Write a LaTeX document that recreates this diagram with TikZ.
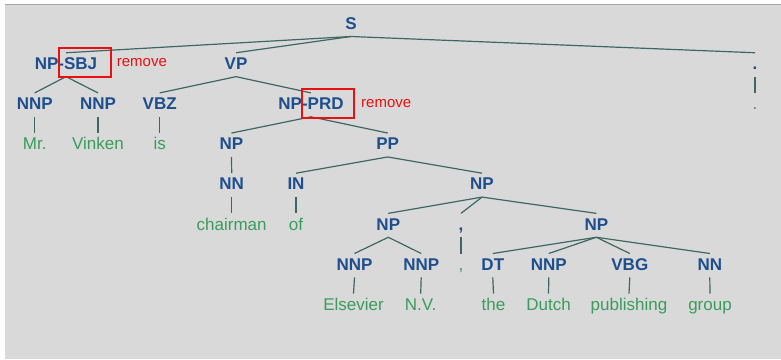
\documentclass[tikz,border=0pt]{standalone}
\usepackage{fontspec}
\setmainfont{Liberation Sans}

\definecolor{catblue}{RGB}{30,78,140}
\definecolor{wordgreen}{RGB}{58,156,92}
\definecolor{edgeteal}{RGB}{62,102,98}
\definecolor{panelgrey}{RGB}{217,217,217}
\definecolor{rimgrey}{RGB}{165,165,165}
\definecolor{markred}{RGB}{232,16,16}

\tikzset{
  cat/.style={anchor=base, inner xsep=0pt, inner ysep=2.5pt,
    text height=14pt, text depth=4.5pt,
    font=\fontsize{17}{17}\selectfont\bfseries, text=catblue},
  word/.style={cat, font=\fontsize{17}{17}\selectfont, text=wordgreen},
  edge/.style={draw=edgeteal, line width=1.2pt},
  markbox/.style={draw=markred, line width=1.8pt, inner sep=0pt},
  note/.style={anchor=base west, inner sep=0pt, text=markred,
    font=\fontsize{15}{15}\selectfont},
}

\begin{document}
\begin{tikzpicture}[x=1pt,y=-1pt]
  % canvas and grey panel
  \fill[white] (0,0) rectangle (781,359);
  \useasboundingbox (0,0) rectangle (781,359);
  \fill[panelgrey] (4.5,4.5) rectangle (781,359);
  \draw[rimgrey, line width=1.2pt] (4.5,4.5) -- (781,4.5);

  % row 1
  \node[cat] (s) at (351,29.3) {S};
  % row 2
  \node[cat] (npsbj) at (66,69.45) {NP-SBJ};
  \node[cat] (vp) at (236,69.45) {VP};
  \node[cat] (dot) at (755,69.45) {.};
  % row 3
  \node[cat] (nnpa) at (34.7,109.6) {NNP};
  \node[cat] (nnpb) at (98,109.6) {NNP};
  \node[cat] (vbz) at (159.7,109.6) {VBZ};
  \node[cat] (npprd) at (311,109.6) {NP-PRD};
  \node[word] (dotw) at (755,109.6) {.};
  % row 4
  \node[word] (mr) at (34.7,149.75) {Mr.};
  \node[word] (vinken) at (98,149.75) {Vinken};
  \node[word] (is) at (159.7,149.75) {is};
  \node[cat] (npa) at (231.5,149.75) {NP};
  \node[cat] (pp) at (387.7,149.75) {PP};
  % row 5
  \node[cat] (nna) at (231.7,189.9) {NN};
  \node[cat] (in) at (296,189.9) {IN};
  \node[cat] (npb) at (482,189.9) {NP};
  % row 6
  \node[word] (chairman) at (231.7,230.05) {chairman};
  \node[word] (of) at (296,230.05) {of};
  \node[cat] (npc) at (388.3,230.05) {NP};
  \node[cat] (comma) at (461,230.05) {,};
  \node[cat] (npd) at (596.3,230.05) {NP};
  % row 7
  \node[cat] (nnpc) at (354.5,270.2) {NNP};
  \node[cat] (nnpd) at (421.2,270.2) {NNP};
  \node[word] (commaw) at (461,270.2) {,};
  \node[cat] (dt) at (492.8,270.2) {DT};
  \node[cat] (nnpe) at (548.8,270.2) {NNP};
  \node[cat] (vbg) at (629.8,270.2) {VBG};
  \node[cat] (nnb) at (709.8,270.2) {NN};
  % row 8
  \node[word] (elsevier) at (353.5,310.35) {Elsevier};
  \node[word] (nv) at (420.7,310.35) {N.V.};
  \node[word] (the) at (493.5,310.35) {the};
  \node[word] (dutch) at (548.5,310.35) {Dutch};
  \node[word] (publishing) at (629,310.35) {publishing};
  \node[word] (group) at (710,310.35) {group};

  % tree branches
  \foreach \p/\c in {s/npsbj, s/vp, s/dot,
      npsbj/nnpa, npsbj/nnpb, nnpa/mr, nnpb/vinken,
      vp/vbz, vp/npprd, vbz/is, dot/dotw,
      npprd/npa, npprd/pp, npa/nna, nna/chairman,
      pp/in, pp/npb, in/of,
      npb/npc, npb/comma, npb/npd, comma/commaw,
      npc/nnpc, npc/nnpd, nnpc/elsevier, nnpd/nv,
      npd/dt, npd/nnpe, npd/vbg, npd/nnb,
      dt/the, nnpe/dutch, vbg/publishing, nnb/group}
    \draw[edge] (\p.south) -- (\c.north);

  % red marks on the function tags
  \node[markbox, minimum width=51.4pt, minimum height=29pt] (boxsbj) at (85,62.2) {};
  \node[note] (remsbj) at (116.7,66.6) {remove};
  \node[markbox, minimum width=52pt, minimum height=29.3pt] (boxprd) at (328.3,103.65) {};
  \node[note] (remprd) at (361,107.3) {remove};
\end{tikzpicture}
\end{document}
